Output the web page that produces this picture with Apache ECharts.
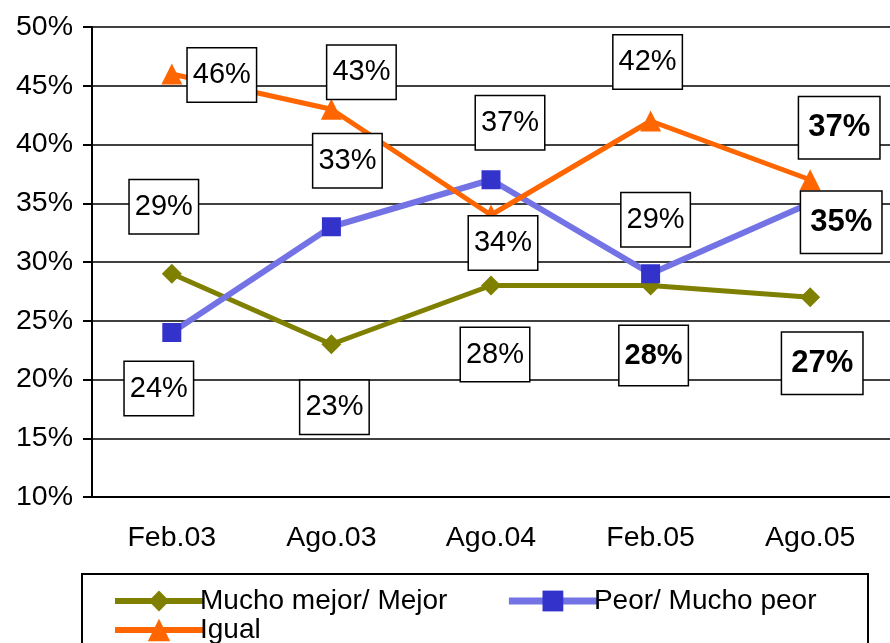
<!DOCTYPE html>
<html>
<head>
<meta charset="utf-8">
<script src="https://cdn.jsdelivr.net/npm/echarts@6/dist/echarts.min.js"></script>
<style>
  html, body { margin: 0; padding: 0; background: #fff; }
  #chart { width: 890px; height: 643px; }
</style>
</head>
<body>
<div id="chart"></div>
<script>
const categories = ["Feb.03", "Ago.03", "Ago.04", "Feb.05", "Ago.05"];
const mejor = [29, 23, 28, 28, 27];
const peor = [24, 33, 37, 29, 35];
const igual = [46, 43, 34, 42, 37];

// where each value box sits relative to its point, and whether it is bold
const mejorLabels = [[-8, -67, 0], [3, 63, 0], [4, 69, 0], [3, 70, 1], [12, 66, 2]];
const peorLabels = [[-13, 56, 0], [16, -66, 0], [19, -57, 0], [5, -54, 0], [31, 19, 2]];
const igualLabels = [[50, 1, 0], [30, -37, 0], [12, 28, 0], [-3, -59, 0], [29, -52, 2]];

const font = "Liberation Sans, Arial, sans-serif";

function boxLabel(offset) {
  const style = offset[2];
  return {
    show: true,
    position: "inside",
    offset: [offset[0], offset[1]],
    formatter: "{c}%",
    color: "#000",
    fontFamily: font,
    fontSize: style === 2 ? 31 : 29,
    fontWeight: style ? "bold" : "normal",
    lineHeight: style === 2 ? 31 : 29,
    backgroundColor: "#fff",
    borderColor: "#000",
    borderWidth: 1.5,
    padding: style === 2 ? [15, 9] : style === 1 ? [15, 5] : [12, 5],
  };
}

function withLabels(values, offsets) {
  return values.map((v, i) => ({ value: v, label: boxLabel(offsets[i]) }));
}

const chart = echarts.init(document.getElementById("chart"));

const legendText = { fontFamily: font, fontSize: 28, color: "#000", padding: [0, 0, 0, -8] };

chart.setOption({
  animation: false,
  textStyle: { fontFamily: font },
  grid: { left: 92, top: 27, width: 802, height: 470 },
  xAxis: {
    type: "category",
    data: categories,
    boundaryGap: true,
    axisLine: { lineStyle: { color: "#000", width: 2 } },
    axisTick: { length: 8, lineStyle: { color: "#000", width: 2 } },
    axisLabel: { color: "#000", fontSize: 28.5, fontFamily: font, margin: 27 },
  },
  yAxis: {
    type: "value",
    min: 10,
    max: 50,
    interval: 5,
    axisLine: { show: true, lineStyle: { color: "#000", width: 2 } },
    axisTick: { show: true, length: 9, lineStyle: { color: "#000", width: 2 } },
    axisLabel: { color: "#000", fontSize: 28.5, fontFamily: font, margin: 19, formatter: "{value}%" },
    splitLine: { lineStyle: { color: "#000", width: 1.5 } },
  },
  legend: [
    {
      data: [
        { name: "Mucho mejor/ Mejor", lineStyle: { width: 6 } },
        { name: "Peor/ Mucho peor", lineStyle: { width: 7 } },
      ],
      left: 107,
      top: 582,
      itemWidth: 88,
      itemHeight: 26,
      itemGap: 58,
      textStyle: legendText,
    },
    {
      data: [{ name: "Igual", lineStyle: { width: 6 } }],
      left: 107,
      top: 611,
      itemWidth: 88,
      itemHeight: 28,
      textStyle: legendText,
    },
  ],
  graphic: [
    {
      type: "rect",
      shape: { x: 82, y: 574, width: 786, height: 80 },
      style: { fill: "none", stroke: "#000", lineWidth: 2 },
      z: 0,
    },
  ],
  series: [
    {
      name: "Mucho mejor/ Mejor",
      type: "line",
      data: withLabels(mejor, mejorLabels),
      symbol: "diamond",
      symbolSize: 20,
      lineStyle: { color: "#808000", width: 5 },
      itemStyle: { color: "#808000" },
    },
    {
      name: "Peor/ Mucho peor",
      type: "line",
      data: withLabels(peor, peorLabels),
      symbol: "rect",
      symbolSize: 19,
      lineStyle: { color: "#7373e6", width: 6 },
      itemStyle: { color: "#3333cc" },
    },
    {
      name: "Igual",
      type: "line",
      data: withLabels(igual, igualLabels),
      symbol: "triangle",
      symbolSize: 21,
      lineStyle: { color: "#ff6600", width: 5 },
      itemStyle: { color: "#ff6600" },
    },
  ],
});
</script>
</body>
</html>
